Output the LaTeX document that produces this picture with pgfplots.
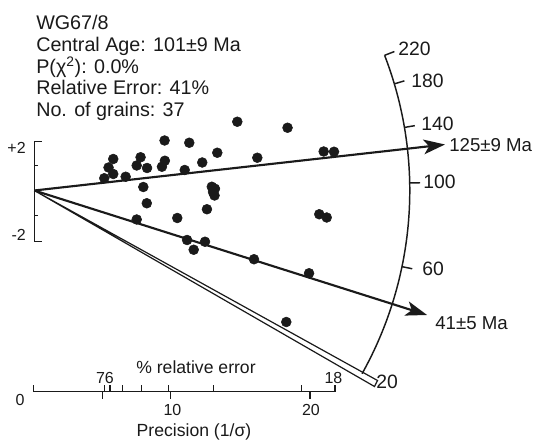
\documentclass[border=0pt]{standalone}
\usepackage{fontspec}
\setmainfont{Liberation Sans}
\usepackage{pgfplots}
\usepackage{pgfplotstable}
\pgfplotsset{compat=1.18}
\usetikzlibrary{arrows.meta}

\definecolor{ink}{HTML}{1A1A1A}

% single-grain ages on the radial plot: precision (1/sigma) and standardised estimate
\pgfplotstableread{
prec z
14.71 2.75
9.44 2.00
11.23 1.91
13.26 1.51
5.72 1.26
7.70 1.33
9.46 1.19
16.16 1.31
12.17 1.12
5.38 0.92
7.42 1.00
8.17 0.90
9.25 0.95
10.90 0.82
5.72 0.66
5.07 0.49
6.62 0.55
7.90 0.14
12.86 0.15
13.09 0.07
13.06 -0.20
8.15 -0.51
12.51 -0.75
10.36 -1.10
7.42 -1.16
11.07 -1.98
12.37 -2.05
11.55 -2.37
15.92 -2.75
18.35 2.51
20.97 1.56
21.72 1.55
20.65 -0.95
21.19 -1.08
19.91 -3.31
18.26 -5.26
12.95 -0.06
}\grains

\begin{document}
\begin{tikzpicture}[every node/.style={text=ink}]
\useasboundingbox (0,0) rectangle (399.75pt,332.25pt);
\begin{axis}[
  at={(0,0)}, anchor=south west,
  scale only axis, width=399.75pt, height=332.25pt,
  xmin=-2.486, xmax=36.138, ymin=-10.1, ymax=7.62,
  hide axis, clip=false]
  % minimum-age band
  \addplot[draw=ink, fill=white, line width=0.9pt] coordinates {(0,0) (24.87,-7.60) (24.65,-7.84)} -- cycle;
  % age components
  \addplot[ink, line width=1.6pt, -{Stealth[length=16pt, width=11pt, inset=4pt]}] coordinates {(0,0) (29.76,1.84)};
  \addplot[ink, line width=1.6pt, -{Stealth[length=16pt, width=11pt, inset=4pt]}] coordinates {(0,0) (28.46,-4.98)};
  % grains
  \addplot[only marks, mark=*, mark size=3.7pt, mark options={fill=ink, draw=ink}] table[x=prec, y=z] {\grains};
\end{axis}

\begin{scope}[shift={(0pt,332.25pt)}, x=0.75pt, y=-0.75pt, ink]
  % header
  \begin{scope}[every node/.style={anchor=base west, inner sep=0pt, font=\fontsize{14.8}{16}\selectfont, text=ink}]
    \node at (36,30) {WG67/8};
    \node at (36,51.7) {Central Age: 101±9 Ma};
    \node at (36,73.3) {P(χ\textsuperscript{2}): 0.0\%};
    \node at (36,95) {Relative Error: 41\%};
    \node at (36,116.7) {No. of grains: 37};
  \end{scope}

  % standardised estimate bar
  \draw[line width=1pt] (41.7,141.7) -- (34.3,141.7) -- (34.3,241.7) -- (41.7,241.7);
  \draw[line width=1pt] (34.3,165.7) -- (37.8,165.7);
  \draw[line width=1pt] (34.3,215.7) -- (37.8,215.7);
  \node[anchor=east, inner sep=0pt, font=\fontsize{12}{13}\selectfont] at (26,148) {+2};
  \node[anchor=east, inner sep=0pt, font=\fontsize{12}{13}\selectfont] at (26,235) {-2};

  % age scale
  \draw[line width=1.1pt] plot[domain=-21.1:29.2, samples=80, smooth] ({34.3+375.5*cos(\x)}, {190.5+375.5*sin(\x)});
  \foreach \a in {-21.1,-16.5,-9.67,-1.15,11.7}
    \draw[line width=1.1pt] ({34.3+375.5*cos(\a)}, {190.5+375.5*sin(\a)}) -- ({34.3+386*cos(\a)}, {190.5+386*sin(\a)});
  \begin{scope}[every node/.style={anchor=base west, inner sep=0pt, font=\fontsize{14.5}{16}\selectfont, text=ink}]
    \node at (398,56) {220};
    \node at (411,88) {180};
    \node at (421,131) {140};
    \node at (423,189) {100};
    \node at (422,276) {60};
    \node at (376,389) {20};
  \end{scope}
  \begin{scope}[every node/.style={anchor=base west, inner sep=0pt, font=\fontsize{14}{16}\selectfont, text=ink}]
    \node at (449,152) {125±9 Ma};
    \node at (435,330) {41±5 Ma};
  \end{scope}

  % precision and relative error scale
  \draw[line width=1pt] (33.3,391.7) -- (335,391.7);
  \foreach \u in {33.3,104.7,110,122.7,141.7,168.3,213.3,301.7,335}
    \draw[line width=1pt] (\u,391.7) -- (\u,385.5);
  \foreach \u in {102.7,170.7,310}
    \draw[line width=1pt] (\u,391.7) -- (\u,399.5);
  \begin{scope}[every node/.style={anchor=center, inner sep=0pt, font=\fontsize{12}{13}\selectfont, text=ink}]
    \node at (20,400) {0};
    \node at (172.5,410) {10};
    \node at (311,410) {20};
    \node at (105,378) {76};
    \node at (333.5,378) {18};
  \end{scope}
  \node[anchor=base, inner sep=0pt, font=\fontsize{13.2}{14}\selectfont] at (196,374) {\% relative error};
  \node[anchor=base, inner sep=0pt, font=\fontsize{13.2}{14}\selectfont] at (194,436.5) {Precision (1/σ)};
\end{scope}
\end{tikzpicture}
\end{document}
